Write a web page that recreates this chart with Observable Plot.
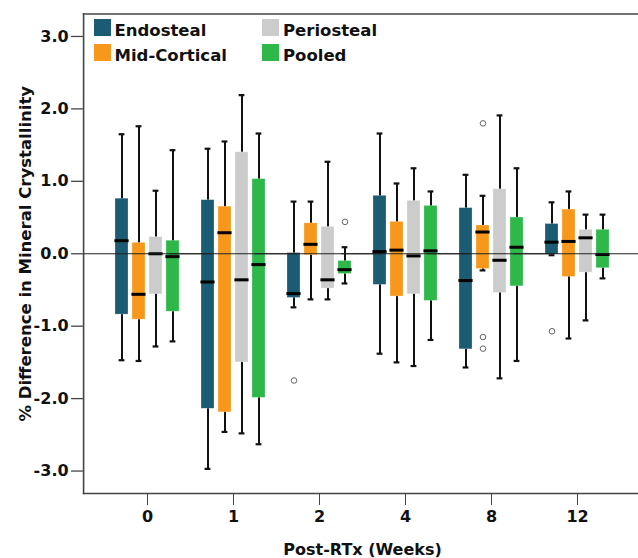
<!DOCTYPE html>
<html>
<head>
<meta charset="utf-8">
<script src="https://cdn.jsdelivr.net/npm/d3@7"></script>
<script src="https://cdn.jsdelivr.net/npm/@observablehq/plot@0.6"></script>
<style>
  html, body { margin: 0; padding: 0; background: #fff; overflow: hidden; }
  #wrap { position: relative; width: 638px; height: 558px; overflow: hidden; }
  .lg { position: absolute; font-family: "DejaVu Sans", sans-serif; font-weight: bold; font-size: 16.5px; line-height: 17px; color: #111; white-space: nowrap; }
  .sw { position: absolute; width: 17px; height: 17px; }
</style>
</head>
<body>
<div id="wrap"></div>
<script>
// ---- data ----
const weeks = ["0", "1", "2", "4", "8", "12"];
const regions = ["Endosteal", "Mid-Cortical", "Periosteal", "Pooled"];
const colors = ["#1b5b73", "#f7981d", "#cccccc", "#2eb84a"];

// rows = weeks, columns = regions
const whiskerLow = [
  [-1.47, -1.48, -1.28, -1.21],
  [-2.97, -2.46, -2.48, -2.63],
  [-0.74, -0.63, -0.63, -0.41],
  [-1.38, -1.50, -1.55, -1.19],
  [-1.57, -0.23, -1.72, -1.48],
  [-0.02, -1.17, -0.92, -0.34]
];
const quartile1 = [
  [-0.84, -0.91, -0.56, -0.80],
  [-2.14, -2.19, -1.50, -1.99],
  [-0.61, -0.02, -0.48, -0.28],
  [-0.43, -0.59, -0.56, -0.65],
  [-1.32, -0.21, -0.54, -0.45],
  [-0.01, -0.32, -0.26, -0.20]
];
const medians = [
  [0.18, -0.56, 0.00, -0.04],
  [-0.39, 0.29, -0.36, -0.15],
  [-0.55, 0.13, -0.36, -0.22],
  [0.03, 0.05, -0.03, 0.04],
  [-0.37, 0.30, -0.09, 0.09],
  [0.16, 0.17, 0.22, -0.01]
];
const quartile3 = [
  [0.76, 0.15, 0.23, 0.18],
  [0.74, 0.65, 1.40, 1.03],
  [0.01, 0.42, 0.37, -0.10],
  [0.80, 0.44, 0.73, 0.66],
  [0.63, 0.39, 0.89, 0.50],
  [0.41, 0.61, 0.33, 0.33]
];
const whiskerHigh = [
  [1.65, 1.76, 0.87, 1.43],
  [1.45, 1.55, 2.19, 1.66],
  [0.72, 0.72, 1.27, 0.09],
  [1.66, 0.97, 1.18, 0.86],
  [1.09, 0.80, 1.91, 1.18],
  [0.71, 0.86, 0.54, 0.54]
];
const outlierWeeks   = ["2", "2", "8", "8", "8", "12"];
const outlierRegions = ["Endosteal", "Pooled", "Mid-Cortical", "Mid-Cortical", "Mid-Cortical", "Endosteal"];
const outlierValues  = [-1.75, 0.44, 1.80, -1.15, -1.31, -1.07];

const yTicks = [-3, -2, -1, 0, 1, 2, 3];
const yDomain = [-3.31, 3.31];
const yLabel = "% Difference in Mineral Crystallinity";
const xLabel = "Post-RTx (Weeks)";

// ---- tables built from the arrays ----
const rows = weeks.flatMap((w, i) => regions.map((r, j) => ({
  week: w, region: r,
  lo: whiskerLow[i][j], q1: quartile1[i][j], med: medians[i][j],
  q3: quartile3[i][j], hi: whiskerHigh[i][j]
})));
const outliers = outlierValues.map((v, k) => ({week: outlierWeeks[k], region: outlierRegions[k], value: v}));

// ---- layout ----
const W = 638, H = 558;
const mL = 82, mT = 13.5, mB = 65;
const fxRange = [mL, 641];
const fxPadOuter = 0.2425;
const fxStep = (fxRange[1] - fxRange[0]) / (weeks.length + 2 * fxPadOuter);
const outerGap = fxStep * fxPadOuter;   // space between frame and first group
const tickLen = 12, tickPad = 3;
const font = "DejaVu Sans, sans-serif";
const axisColor = "#444";

const chart = Plot.plot({
  width: W, height: H,
  marginLeft: mL, marginRight: 0, marginTop: mT, marginBottom: mB,
  style: {fontFamily: font, fontSize: "16px", fontWeight: "bold", color: "#111", background: "#fff"},
  fx: {domain: weeks, range: fxRange, paddingInner: 0, paddingOuter: fxPadOuter, label: null},
  x: {domain: regions, axis: null, paddingInner: 0.26, paddingOuter: 0.525},
  y: {domain: yDomain, axis: null},
  color: {domain: regions, range: colors},
  marks: [
    // whiskers and caps
    Plot.ruleX(rows, {fx: "week", x: "region", y1: "lo", y2: "hi", stroke: "#111", strokeWidth: 2}),
    Plot.tickY(rows, {fx: "week", x: "region", y: "hi", stroke: "#111", strokeWidth: 2.2, insetLeft: 3.6, insetRight: 3.6}),
    Plot.tickY(rows, {fx: "week", x: "region", y: "lo", stroke: "#111", strokeWidth: 2.2, insetLeft: 3.6, insetRight: 3.6}),
    // boxes (Q1–Q3) and medians
    Plot.barY(rows, {fx: "week", x: "region", y1: "q1", y2: "q3", fill: "region", stroke: "#fff", strokeOpacity: 0.4, strokeWidth: 0.6}),
    Plot.tickY(rows, {fx: "week", x: "region", y: "med", stroke: "#000", strokeWidth: 3, insetLeft: -0.6, insetRight: -0.6}),
    // outliers
    Plot.dot(outliers, {fx: "week", x: "region", y: "value", r: 2.8, stroke: "#666", fill: "#fff", strokeWidth: 1}),
    // zero reference line across the whole frame
    Plot.ruleY([0], {stroke: "#222", strokeWidth: 1.1, insetLeft: -outerGap, insetRight: -outerGap}),
    // frame (left, top, bottom)
    Plot.frame({anchor: "top", facet: "super", stroke: axisColor, strokeWidth: 1.6, insetLeft: -outerGap, insetRight: -outerGap}),
    Plot.frame({anchor: "bottom", facet: "super", stroke: axisColor, strokeWidth: 1.6, insetLeft: -outerGap, insetRight: -outerGap}),
    Plot.frame({anchor: "left", facet: "super", stroke: axisColor, strokeWidth: 1.6, insetLeft: -outerGap}),
    // y axis: ticks outside the frame and labels
    Plot.ruleY(yTicks, {
      y: d => d, facetAnchor: "left", stroke: axisColor, strokeWidth: 1.3,
      insetLeft: -(outerGap + tickLen), insetRight: fxStep + outerGap
    }),
    Plot.text(yTicks, {
      y: d => d, text: d => d.toFixed(1), facetAnchor: "left", frameAnchor: "left",
      textAnchor: "end", dx: -(outerGap + tickLen + tickPad),
      fontSize: 16, fontWeight: "bold", fontFamily: font, fill: "#111"
    }),
    // x (week) axis
    Plot.axisFx({
      anchor: "bottom", tickSize: 12, tickPadding: 5, stroke: axisColor, fill: "#111",
      fontSize: 16, fontWeight: "bold", fontFamily: font,
      label: xLabel, labelAnchor: "center", labelOffset: 61
    }),
    // y axis title
    Plot.text([yLabel], {
      facet: "super", frameAnchor: "left", rotate: -90, dx: -(outerGap + 58), text: d => d,
      textAnchor: "middle", lineAnchor: "middle",
      fontSize: 16.5, fontWeight: "bold", fontFamily: font, fill: "#111"
    })
  ]
});

const wrap = document.getElementById("wrap");
wrap.appendChild(chart);

// ---- legend (inside the plot frame, top-left) ----
const legendCols = [93.5, 262];
const legendRows = [19, 44];
regions.forEach((r, i) => {
  const col = Math.floor(i / 2), row = i % 2;
  const sw = document.createElement("div");
  sw.className = "sw";
  sw.style.left = legendCols[col] + "px";
  sw.style.top = legendRows[row] + "px";
  sw.style.background = colors[i];
  wrap.appendChild(sw);
  const t = document.createElement("div");
  t.className = "lg";
  t.textContent = r;
  t.style.left = (legendCols[col] + 21) + "px";
  t.style.top = (legendRows[row] + 3) + "px";
  wrap.appendChild(t);
});
</script>
</body>
</html>
